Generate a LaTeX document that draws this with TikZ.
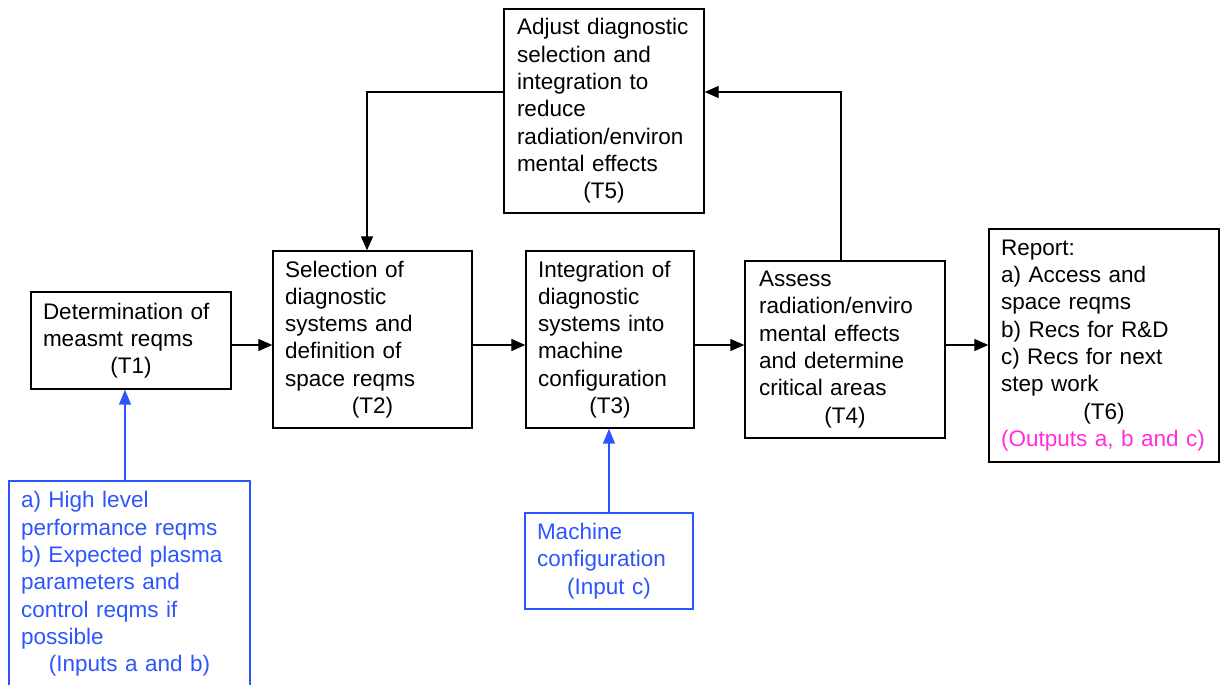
\documentclass[tikz,border=0pt]{standalone}
\usepackage{fontspec}
\setmainfont{Liberation Sans}
\usetikzlibrary{arrows.meta}
\definecolor{inblue}{RGB}{45,85,255}
\definecolor{outpink}{RGB}{255,45,220}
\begin{document}
\begin{tikzpicture}[x=1pt,y=-1pt,
  box/.style={draw=black, line width=1.4pt, inner xsep=12pt, inner ysep=0pt,
    align=left, font=\fontsize{22.5}{27.3}\selectfont},
  bbox/.style={box, draw=inblue, text=inblue},
  arr/.style={line width=1.3pt, -{Triangle[length=14pt,width=12pt]}},
  barr/.style={line width=1.5pt, draw=inblue, -{Triangle[length=15pt,width=12pt]}, color=inblue}]
\useasboundingbox (0,0) rectangle (1221,685);

\node[box, minimum width=200pt, minimum height=97pt, text width=176pt] (t1) at (131,340.5)
  {Determination of\\measmt reqms\par\centering (T1)\par};
\node[box, minimum width=199pt, minimum height=177pt, text width=175pt] (t2) at (372.5,339.5)
  {Selection of\\diagnostic\\systems and\\definition of\\space reqms\par\centering (T2)\par};
\node[box, minimum width=168pt, minimum height=177pt, text width=144pt] (t3) at (610,339.5)
  {Integration of\\diagnostic\\systems into\\machine\\configuration\par\centering (T3)\par};
\node[box, minimum width=200pt, minimum height=177pt, text width=172pt, inner xsep=14pt] (t4) at (845,349.5)
  {Assess\\radiation/enviro\\mental effects\\and determine\\critical areas\par\centering (T4)\par};
\node[box, minimum width=200pt, minimum height=204pt, text width=174pt, inner xsep=13pt] (t5) at (604,111)
  {Adjust diagnostic\\selection and\\integration to\\reduce\\radiation/environ\\mental effects\par\centering (T5)\par};
\node[box, minimum width=230pt, minimum height=233pt, text width=206pt] (t6) at (1104,345.5)
  {Report:\\a) Access and\\space reqms\\b) Recs for R\&D\\c) Recs for next\\step work\par{\centering (T6)\par}\color{outpink}(Outputs a, b and c)\par};
\node[bbox, minimum width=241pt, minimum height=206pt, text width=217pt] (inp) at (129.5,584)
  {a) High level\\performance reqms\\b) Expected plasma\\parameters and\\control reqms if\\possible\par\centering (Inputs a and b)\par};
\node[bbox, minimum width=168pt, minimum height=96pt, text width=144pt] (mc) at (609,561)
  {Machine\\configuration\par\centering (Input c)\par};

\coordinate (ay) at (0,345);
\coordinate (up) at (841,92);
\coordinate (dn) at (367,92);
\coordinate (bx) at (125,0);

\draw[arr] (t1.east |- ay) -- (t2.west |- ay);
\draw[arr] (t2.east |- ay) -- (t3.west |- ay);
\draw[arr] (t3.east |- ay) -- (t4.west |- ay);
\draw[arr] (t4.east |- ay) -- (t6.west |- ay);
\draw[arr] (t4.north -| up) -- (up) -- (t5.east |- up);
\draw[arr] (t5.west |- dn) -- (dn) -- (t2.north -| dn);
\draw[barr] (inp.north -| bx) -- (t1.south -| bx);
\draw[barr] (mc.north) -- (t3.south -| mc.north);
\end{tikzpicture}
\end{document}
